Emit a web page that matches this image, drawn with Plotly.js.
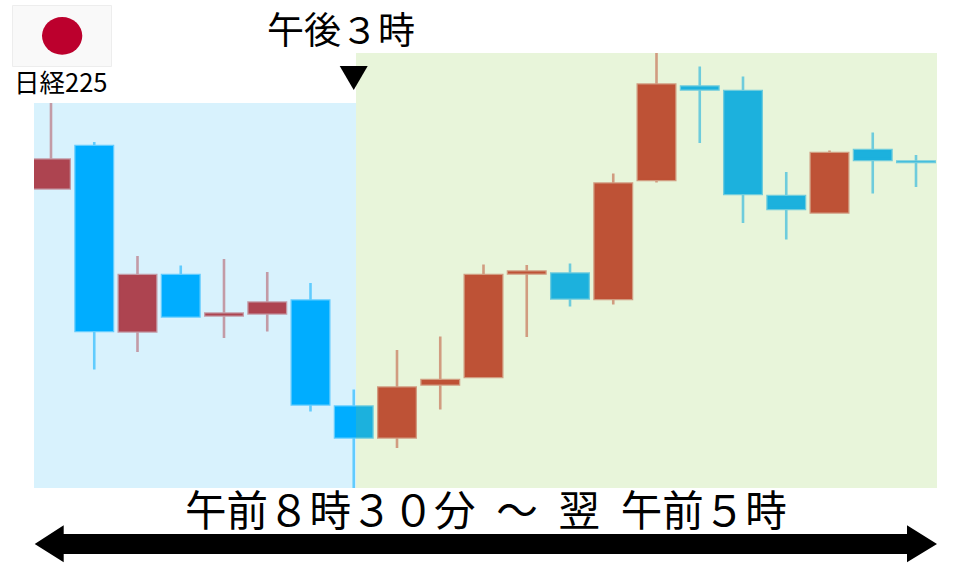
<!DOCTYPE html>
<html>
<head>
<meta charset="utf-8">
<script src="https://cdn.plot.ly/plotly-3.0.1.min.js"></script>
<style>html,body{margin:0;padding:0;background:#fff}#chart{width:960px;height:567px}</style>
</head>
<body>
<div id="chart"></div>
<script>
var session = [0,1,2,3,4,5,6,7,8,9,10,11,12,13,14,15,16,17,18,19,20];
var open  = [299.5,342,156.5,213,172.5,174.5,187.5,81.5,50.5,103.5,111,214.5,214.5,189,308,401.5,397,292,275.5,338,326.5];
var high  = [400,346,232,222.5,229,216,205,98.5,138,151.5,223.5,223,224.5,314.5,445,421.5,411.5,316,337.5,355.5,333];
var low   = [298.5,118.5,136,170.5,150,156.5,76.5,-5,40,78.5,110,151,181.5,183.5,305.5,345,265,248.5,274.5,294.5,301];
var close = [328.5,157,213,171.5,174.5,185.5,83.5,50.5,100.5,108,213,216.5,189.5,304.5,403.5,398.5,294,279,335,328,326];

var W = 960, H = 567;
var L = 34, M = 356, R = 937, T1 = 103, T2 = 53, B = 488;
var x0 = 51, step = 43.25;
function xv(px){ return (px - x0) / step; }
function px(v){ return v / W; }
function py(v){ return 1 - v / H; }

function candles(from, to, xa, ya, up, upLine, down, downLine){
  return {
    type:'candlestick',
    x:session.slice(from,to), open:open.slice(from,to), high:high.slice(from,to),
    low:low.slice(from,to), close:close.slice(from,to),
    xaxis:xa, yaxis:ya, whiskerwidth:0, hoverinfo:'skip', showlegend:false,
    increasing:{fillcolor:up, line:{color:upLine, width:2.6}},
    decreasing:{fillcolor:down, line:{color:downLine, width:2.6}}
  };
}
var traces = [
  candles(0,8,'x','y','#AD4450','rgba(173,68,80,0.5)','#00ADFF','rgba(0,173,255,0.55)'),
  candles(7,21,'x2','y2','#BE5236','rgba(190,82,54,0.55)','#1CB1DD','rgba(28,177,221,0.6)')
];

function rect(x1,y1,x2,y2,fill,line){
  return {type:'rect',xref:'paper',yref:'paper',x0:px(x1),x1:px(x2),y0:py(y2),y1:py(y1),
    fillcolor:fill,line:line||{width:0},layer:'below'};
}
function poly(points){
  var d = points.map(function(p,i){ return (i?'L':'M')+px(p[0])+','+py(p[1]); }).join(' ')+' Z';
  return {type:'path',xref:'paper',yref:'paper',path:d,fillcolor:'#000',line:{width:0},layer:'above'};
}
var shapes = [
  rect(L,T1,M,B,'#D8F2FD'),
  rect(M,T2,R,B,'#E8F5DA'),
  rect(12.5,5.5,111.5,66.5,'#F9F9F9',{color:'#EDEDED',width:1}),
  {type:'circle',xref:'paper',yref:'paper',x0:px(42),x1:px(82.3),y0:py(54.7),y1:py(17),fillcolor:'#BC002D',line:{width:0},layer:'below'},
  poly([[339.7,66],[367.7,66],[353.7,90]]),
  poly([[34.7,544],[63.7,525.3],[63.7,534],[907,534],[907,525.3],[937,544],[907,562.3],[907,554],[63.7,554],[63.7,562.3]])
];
var cjk = '"Noto Sans CJK JP","Noto Sans",sans-serif';
function label(text,x,y,size){
  return {xref:'paper',yref:'paper',x:px(x),y:py(y),text:text,showarrow:false,
    xanchor:'center',yanchor:'middle',font:{family:cjk,size:size,color:'#000'}};
}
var layout = {
  width:W,height:H,margin:{l:0,r:0,t:0,b:0},
  paper_bgcolor:'#fff',plot_bgcolor:'rgba(0,0,0,0)',
  boxmode:'overlay',boxgap:0.135,boxgroupgap:0,showlegend:false,
  xaxis:{domain:[px(L),px(M)],range:[xv(L),xv(M)],visible:false,fixedrange:true,rangeslider:{visible:false},anchor:'y'},
  xaxis2:{domain:[px(M),px(R)],range:[xv(M),xv(R)],visible:false,fixedrange:true,rangeslider:{visible:false},anchor:'y2'},
  yaxis:{domain:[py(B),py(T1)],range:[0,B-T1],visible:false,fixedrange:true,anchor:'x'},
  yaxis2:{domain:[py(B),py(T2)],range:[0,B-T2],visible:false,fixedrange:true,anchor:'x2'},
  shapes:shapes,
  annotations:[
    label('午後３時',341,28,37),
    label('午前８時３０分\u2002～\u2002翌\u2002午前５時',486.5,508,41.5),
    label('日経225',60,81,25.5)
  ]
};
Plotly.newPlot('chart',traces,layout,{staticPlot:true,displayModeBar:false});
</script>
</body>
</html>
